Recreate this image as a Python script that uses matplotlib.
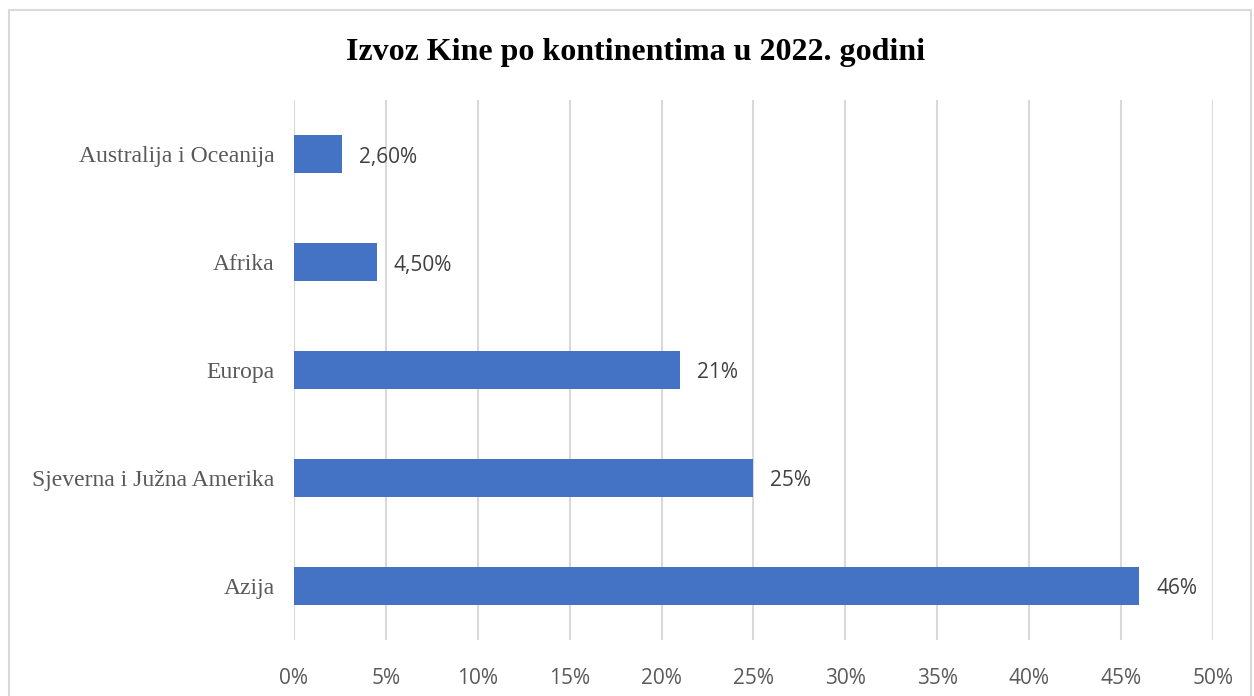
import matplotlib

matplotlib.use("Agg")
import matplotlib.pyplot as plt  # noqa: E402
from matplotlib.patches import Rectangle  # noqa: E402
from matplotlib.ticker import FuncFormatter, MultipleLocator  # noqa: E402

# Datos del grafico (de abajo hacia arriba)
kontinenti = ["Azija", "Sjeverna i Južna Amerika", "Europa", "Afrika",
              "Australija i Oceanija"]
udio = [46, 25, 21, 4.5, 2.6]
oznake = ["46%", "25%", "21%", "4,50%", "2,60%"]

BAR_COLOR = "#4472C4"
GRID_COLOR = "#d9d9d9"
TEXT_GRAY = "#595959"

fig = plt.figure(figsize=(12.54, 6.96), dpi=100)
ax = fig.add_axes([0.2344, 0.0805, 0.7329, 0.7758])

pos = range(len(kontinenti))
ax.barh(pos, udio, height=0.35, color=BAR_COLOR, zorder=3)

for y, v, txt in zip(pos, udio, oznake):
    ax.annotate(txt, (v, y), xytext=(17, -3), textcoords="offset pixels",
                va="center", ha="left", fontsize=15, color="#404040",
                family=["Open Sans", "DejaVu Sans"])

ax.set_xlim(0, 50)
ax.set_ylim(-0.5, 4.5)
ax.xaxis.set_major_locator(MultipleLocator(5))
ax.xaxis.set_major_formatter(FuncFormatter(lambda x, _: f"{x:.0f}%"))
ax.set_yticks(list(pos))
ax.set_yticklabels(kontinenti, family="Liberation Serif", fontsize=17,
                   color=TEXT_GRAY)
for lbl in ax.get_xticklabels():
    lbl.set_family(["Open Sans", "DejaVu Sans"])
    lbl.set_fontsize(15)
    lbl.set_color(TEXT_GRAY)

ax.tick_params(axis="both", length=0)
ax.tick_params(axis="x", pad=20)
ax.tick_params(axis="y", pad=14)
ax.grid(True, axis="x", color=GRID_COLOR, linewidth=1.5, zorder=0)
for s in ax.spines.values():
    s.set_visible(False)

fig.text(0.507, 0.925, "Izvoz Kine po kontinentima u 2022. godini",
         ha="center", va="center", family="Liberation Serif",
         fontweight="bold", fontsize=23, color="black")

# Okvir oko cijelog grafikona
fig.patches.append(Rectangle((9 / 1254, -0.02), 1242 / 1254, 1.0 - 10 / 696 + 0.02,
                             transform=fig.transFigure, fill=False,
                             edgecolor=GRID_COLOR, linewidth=1.5))

fig.savefig("out.png", dpi=100)
plt.close(fig)
